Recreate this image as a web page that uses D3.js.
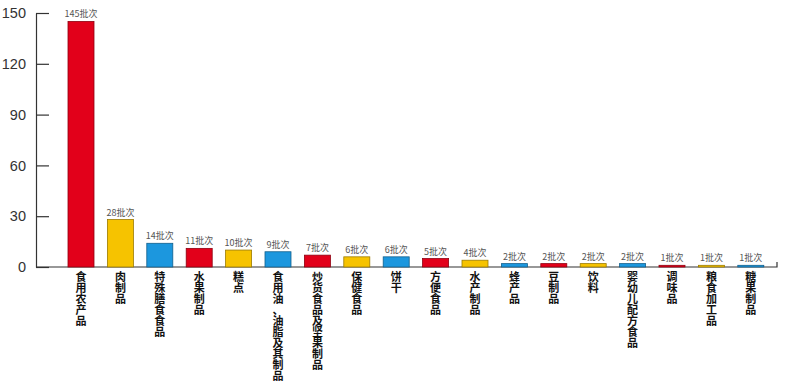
<!DOCTYPE html>
<html>
<head>
<meta charset="utf-8">
<script src="https://cdn.jsdelivr.net/npm/d3@7"></script>
<style>
  body { margin: 0; background: #fff; }
  svg { display: block; }
</style>
</head>
<body>
<script>
// data
var categories = ["食用农产品", "肉制品", "特殊膳食食品", "水果制品", "糕点", "食用油、油脂及其制品",
    "炒货食品及坚果制品", "保健食品", "饼干", "方便食品", "水产制品", "蜂产品", "豆制品", "饮料",
    "婴幼儿配方食品", "调味品", "粮食加工品", "糖果制品"];
var values = [145, 28, 14, 11, 10, 9, 7, 6, 6, 5, 4, 2, 2, 2, 2, 1, 1, 1];
var yTicks = [0, 30, 60, 90, 120, 150];
var palette = ["#e2001a", "#f6c300", "#1c97de"];

var width = 785, height = 388;
var axisX = 36, baseY = 267;

var svg = d3.select("body").append("svg")
    .attr("width", width)
    .attr("height", height);

var x = d3.scaleBand()
    .domain(categories)
    .range([61.3, 770.5])
    .paddingInner(0.34)
    .paddingOuter(0.17);

var y = d3.scaleLinear()
    .domain([0, 150])
    .range([baseY, 13]);

// y axis, ticks point inward
var yAxis = d3.axisLeft(y)
    .tickValues(yTicks)
    .tickSizeInner(-13)
    .tickSizeOuter(0)
    .tickPadding(10);

var gy = svg.append("g")
    .attr("transform", "translate(" + axisX + ",0)")
    .call(yAxis);
gy.selectAll("path, line").attr("stroke", "#333").attr("stroke-width", 1.2);
gy.selectAll("text")
    .attr("fill", "#333")
    .style("font-family", "Liberation Sans, Arial, sans-serif")
    .style("font-size", "14.5px");

// baseline with small end tick
var xEnd = x.range()[1] + 6.5;
svg.append("path")
    .attr("d", "M" + axisX + "," + baseY + "H" + xEnd + "V" + (baseY - 5))
    .attr("fill", "none")
    .attr("stroke", "#333")
    .attr("stroke-width", 1.2);

// bars
svg.selectAll(".bar")
    .data(values)
    .enter().append("rect")
    .attr("class", "bar")
    .attr("x", function (d, i) { return x(categories[i]); })
    .attr("width", x.bandwidth())
    .attr("y", function (d) { return y(d); })
    .attr("height", function (d) { return baseY - y(d); })
    .attr("fill", function (d, i) { return palette[i % 3]; })
    .attr("stroke", function (d, i) { return d3.color(palette[i % 3]).darker(1.3); })
    .attr("stroke-width", 0.8);

// value labels
svg.selectAll(".val")
    .data(values)
    .enter().append("text")
    .attr("class", "val")
    .attr("x", function (d, i) { return x(categories[i]) + x.bandwidth() / 2; })
    .attr("y", function (d) { return y(d) - 4; })
    .attr("text-anchor", "middle")
    .attr("fill", "#555")
    .style("font-family", "Noto Sans CJK SC, sans-serif")
    .style("font-size", "9px")
    .text(function (d) { return d + "批次"; });

// vertical category labels, one text per character
var cat = svg.selectAll(".cat")
    .data(categories)
    .enter().append("g")
    .attr("class", "cat")
    .attr("transform", function (c) { return "translate(" + (x(c) + x.bandwidth() / 2) + "," + (baseY + 14) + ")"; });

cat.selectAll("text")
    .data(function (c) { return Array.from(c); })
    .enter().append("text")
    .attr("y", function (ch, j) { return j * 11; })
    .attr("text-anchor", "middle")
    .attr("fill", "#111")
    .style("font-family", "Noto Sans CJK SC, sans-serif")
    .style("font-weight", "700")
    .style("font-size", "11px")
    .text(function (ch) { return ch; });
</script>
</body>
</html>
